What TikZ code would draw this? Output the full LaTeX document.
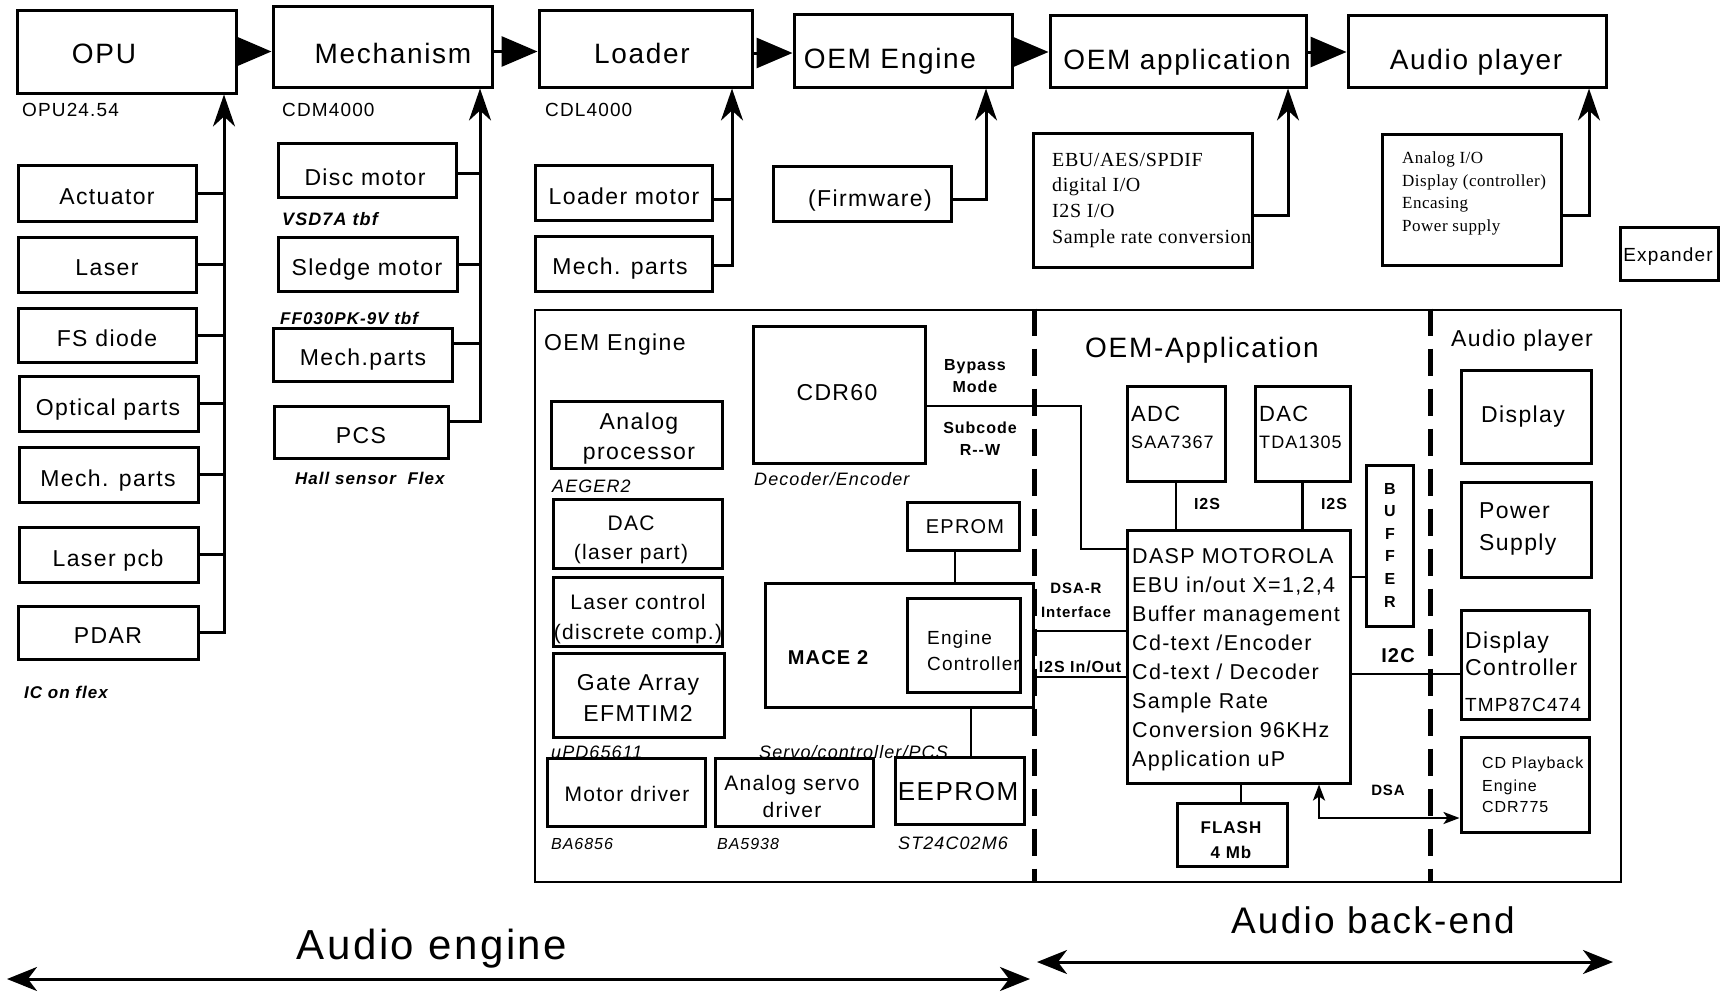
\documentclass[tikz,border=0pt]{standalone}
\usepackage{fontspec}
\setmainfont{Liberation Sans}[LetterSpace=6]
\newfontfamily\serifbox{Liberation Serif}[LetterSpace=3]
\usetikzlibrary{arrows.meta,fit}
\newcommand\fsz[2]{\fontsize{#1}{#2}\selectfont}
\begin{document}
\begin{tikzpicture}[x=1pt,y=-1pt,
  box/.style={draw,line width=3pt,inner sep=0pt},
  bigbox/.style={draw,line width=2.6pt,inner sep=0pt},
  capdown/.style={yshift={-0.36*#1*1pt}},
  tc/.style={inner sep=0pt,anchor=base},
  tw/.style={inner sep=0pt,anchor=base west},
  mc/.style={inner sep=0pt,anchor=center,align=center},
  toptext/.style={tc,font=\fsz{28}{34},capdown=28},
  bt/.style={tc,font=\fsz{23}{30},capdown=23},
  sub/.style={tw,font=\fsz{19}{22},capdown=19},
  itl/.style={tw,font=\bfseries\itshape\fsz{17}{20},capdown=17},
  itn/.style={tw,font=\itshape\fsz{18}{20},capdown=18},
  bsm/.style={tc,font=\bfseries\fsz{16}{20},capdown=16},
  conn/.style={line width=3pt},
  thin/.style={line width=2.6pt},
  flow/.style={line width=3pt,-{Triangle[length=36pt,width=30pt]}},
  feed/.style={line width=3pt,-{Stealth[length=32pt,width=22pt,inset=10pt]}},
  divider/.style={line width=5pt,dash pattern=on 27pt off 13pt},
  spanarrow/.style={line width=3pt,{Stealth[length=30pt,width=24pt,inset=9pt]}-{Stealth[length=30pt,width=24pt,inset=9pt]}},
  dsaarrow/.style={line width=2.5pt,{Stealth[length=16pt,width=12pt,inset=4pt]}-{Stealth[length=16pt,width=12pt,inset=4pt]}}
]
\useasboundingbox (0,0) rectangle (1726,993);

% ---------- top row ----------
\node[box,fit={(17,10)(236,93)}] (opu) {};
\node[toptext] (opu-t) at (104,53) {OPU};
\node[box,fit={(273,6)(492,87)}] (mech) {};
\node[toptext] (mech-t) at (393,53) {Mechanism};
\node[box,fit={(539,10)(752,87)}] (load) {};
\node[toptext] (load-t) at (642,53) {Loader};
\node[box,fit={(794,14)(1012,87)}] (oeme) {};
\node[toptext] (oeme-t) at (890,58) {OEM Engine};
\node[box,fit={(1050,15)(1306,87)}] (oema) {};
\node[toptext] (oema-t) at (1177,59) {OEM application};
\node[box,fit={(1348,15)(1606,87)}] (aplay) {};
\node[toptext] (aplay-t) at (1476,59) {Audio player};

\draw[flow] (opu.east) -- (opu.east -| mech.west);
\draw[flow] ([yshift=-5pt]mech.east) -- ([yshift=-5pt]mech.east -| load.west);
\draw[flow] ([yshift=-4.5pt]load.east) -- ([yshift=-4.5pt]load.east -| oeme.west);
\draw[flow] ([yshift=-1.5pt]oeme.east) -- ([yshift=-1.5pt]oeme.east -| oema.west);
\draw[flow] ([yshift=-1pt]oema.east) -- ([yshift=-1pt]oema.east -| aplay.west);

\node[sub] (opu-l) at (22,110) {OPU24.54};
\node[sub] (mech-l) at (282,110) {CDM4000};
\node[sub] (load-l) at (545,110) {CDL4000};

% ---------- OPU column ----------
\node[box,fit={(18,165)(196,221)}] (act) {};
\node[bt] (act-t) at (107,196) {Actuator};
\node[box,fit={(18,237)(196,292)}] (las) {};
\node[bt] (las-t) at (107,267) {Laser};
\node[box,fit={(18,308)(196,362)}] (fsd) {};
\node[bt] (fsd-t) at (107,338) {FS diode};
\node[box,fit={(19,376)(198,431)}] (opt) {};
\node[bt] (opt-t) at (108,407) {Optical parts};
\node[box,fit={(19,447)(198,502)}] (mp1) {};
\node[bt] (mp1-t) at (108,478) {Mech. parts};
\node[box,fit={(19,527)(198,582)}] (lpcb) {};
\node[bt] (lpcb-t) at (108,558) {Laser pcb};
\node[box,fit={(18,606)(198,659)}] (pdar) {};
\node[bt] (pdar-t) at (108,635) {PDAR};
\node[itl] (icflex) at (24,692) {IC on flex};

\draw[feed] (pdar.east) -| (opu.south -| 224,0);
\foreach \b in {act,las,fsd,opt,mp1,lpcb}
  \draw[conn] (\b.east) -- (\b.east -| 224,0);

% ---------- Mechanism column ----------
\node[box,fit={(278,143)(456,197)}] (disc) {};
\node[bt] (disc-t) at (365,177) {Disc motor};
\node[itl,font=\bfseries\itshape\fsz{18}{20},capdown=18] (vsd) at (282,213) {VSD7A tbf};
\node[box,fit={(278,237)(457,291)}] (sledge) {};
\node[bt] (sledge-t) at (367,267) {Sledge motor};
\node[itl] (ff) at (280,318) {FF030PK-9V tbf};
\node[box,fit={(273,328)(452,381)}] (mp2) {};
\node[bt] (mp2-t) at (363,357) {Mech.parts};
\node[box,fit={(274,406)(448,458)}] (pcs) {};
\node[bt] (pcs-t) at (361,435) {PCS};
\node[itl] (hall) at (295,478) {Hall sensor\ \ Flex};

\draw[feed] ([yshift=11pt]pcs.east) -| (mech.south -| 480,0);
\draw[conn] ([yshift=-3pt]disc.east) -- ([yshift=-3pt]disc.east -| 480,0);
\draw[conn] (sledge.east) -- (sledge.east -| 480,0);
\draw[conn] ([yshift=11pt]mp2.east) -- ([yshift=11pt]mp2.east -| 480,0);

% ---------- Loader column ----------
\node[box,fit={(535,165)(712,220)}] (lm) {};
\node[bt] (lm-t) at (624,196) {Loader motor};
\node[box,fit={(535,236)(712,291)}] (mp3) {};
\node[bt] (mp3-t) at (620,266) {Mech. parts};
\draw[feed] ([yshift=-1.5pt]mp3.east) -| (load.south -| 732,0);
\draw[conn] ([yshift=-6.5pt]lm.east) -- ([yshift=-6.5pt]lm.east -| 732,0);

% ---------- Firmware ----------
\node[box,fit={(773,166)(951,221)}] (fw) {};
\node[bt] (fw-t) at (870,198) {(Firmware)};
\draw[feed] ([yshift=-5.5pt]fw.east) -| (oeme.south -| 986,0);

% ---------- EBU box ----------
\node[box,fit={(1033,133)(1252,267)}] (ebu) {};
\node[tw,font=\serifbox\fsz{20}{24},capdown=20] (ebu-1) at (1052,159) {EBU/AES/SPDIF};
\node[tw,font=\serifbox\fsz{20}{24},capdown=20] (ebu-2) at (1052,184) {digital I/O};
\node[tw,font=\serifbox\fsz{20}{24},capdown=20] (ebu-3) at (1052,210) {I2S I/O};
\node[tw,font=\serifbox\fsz{20}{24},capdown=20] (ebu-4) at (1052,236) {Sample rate conversion};
\draw[feed] ([yshift=-15pt]ebu.east) -| (oema.south -| 1288,0);

% ---------- Analog I/O box ----------
\node[box,fit={(1382,134)(1561,265)}] (aio) {};
\node[tw,font=\serifbox\fsz{17}{20},capdown=17] (aio-1) at (1402,157) {Analog I/O};
\node[tw,font=\serifbox\fsz{17}{20},capdown=17] (aio-2) at (1402,180) {Display (controller)};
\node[tw,font=\serifbox\fsz{17}{20},capdown=17] (aio-3) at (1402,202) {Encasing};
\node[tw,font=\serifbox\fsz{17}{20},capdown=17] (aio-4) at (1402,225) {Power supply};
\draw[feed] ([yshift=-15.5pt]aio.east) -| (aplay.south -| 1589,0);

\node[box,fit={(1620,227)(1718,280)}] (exp) {};
\node[tc,font=\fsz{19}{22},capdown=19] (exp-t) at (1668,255) {Expander};

% ---------- big box ----------
\node[bigbox,fit={(535,310)(1621,882)}] (big) {};
\draw[divider] (big.north -| 1034,0) -- (big.south -| 1034,0);
\draw[divider] (big.north -| 1430,0) -- (big.south -| 1430,0);

\node[tw,font=\fsz{23}{28},capdown=23] (sec1) at (544,342) {OEM Engine};
\node[tc,font=\fsz{28}{34},capdown=28] (sec2) at (1202,347) {OEM-Application};
\node[tw,font=\fsz{23}{28},capdown=23] (sec3) at (1451,338) {Audio player};

% OEM engine section
\node[box,fit={(551,401)(722,468)}] (ap) {};
\node[mc,font=\fsz{23}{30}] (ap-t) at (639,439) {Analog\\processor};
\node[itn] (aeger) at (552,486) {AEGER2};
\node[box,fit={(553,499)(722,568)}] (dacl) {};
\node[mc,font=\fsz{21}{29}] (dacl-t) at (631,540) {DAC\\(laser part)};
\node[box,fit={(553,577)(722,646)}] (lc) {};
\node[mc,font=\fsz{21}{30}] (lc-t) at (638,619) {Laser control\\(discrete comp.)};
\node[box,fit={(553,653)(724,737)}] (ga) {};
\node[mc,font=\fsz{23}{31}] (ga-t) at (638,698) {Gate Array\\EFMTIM2};
\node[itn] (upd) at (551,752) {uPD65611};
\node[itn] (servo) at (759,752) {Servo/controller/PCS};

\node[box,fit={(547,758)(705,826)}] (md) {};
\node[tc,font=\fsz{21}{27},capdown=21] (md-t) at (627,794) {Motor driver};
\node[box,fit={(715,758)(873,826)}] (asd) {};
\node[mc,font=\fsz{21}{27}] (asd-t) at (792,796) {Analog servo\\driver};
\node[box,fit={(895,757)(1024,824)}] (eeprom) {};
\node[tc,font=\fsz{26}{30},capdown=26] (eeprom-t) at (958,791) {EEPROM};
\node[itn,font=\itshape\fsz{16}{20},capdown=16] (ba1) at (551,837) {BA6856};
\node[itn,font=\itshape\fsz{16}{20},capdown=16] (ba2) at (717,837) {BA5938};
\node[itn] (st) at (898,843) {ST24C02M6};

\node[box,fit={(753,326)(925,463)}] (cdr) {};
\node[tc,font=\fsz{23}{28},capdown=23] (cdr-t) at (837,392) {CDR60};
\node[itn] (decenc) at (754,479) {Decoder/Encoder};
\node[mc,font=\bfseries\fsz{16}{22}] (bypass) at (975,376) {Bypass\\Mode};
\node[mc,font=\bfseries\fsz{16}{22}] (subcode) at (980,439) {Subcode\\R-{}-W};

\node[box,fit={(907,502)(1019,550)}] (eprom) {};
\node[tc,font=\fsz{20}{24},capdown=20] (eprom-t) at (965,526) {EPROM};
\node[box,fit={(765,583)(1033,707)}] (mace) {};
\node[tc,font=\bfseries\fsz{20}{24},capdown=20] (mace-t) at (828,657) {MACE 2};
\node[box,fit={(907,598)(1020,692)}] (ec) {};
\node[tw,font=\fsz{19}{24},capdown=19] (ec-1) at (927,638) {Engine};
\node[tw,font=\fsz{19}{24},capdown=19] (ec-2) at (927,664) {Controller};

\coordinate (ep-b) at ([xshift=-8pt]eprom.south);
\draw[thin] (ep-b) -- (ep-b |- mace.north);
\coordinate (ee-t) at ([xshift=11.5pt]eeprom.north);
\draw[thin] (ee-t) -- (ee-t |- mace.south);

% OEM application section
\node[box,fit={(1127,386)(1225,481)}] (adc) {};
\node[tw,font=\fsz{22}{26},capdown=22] (adc-1) at (1131,414) {ADC};
\node[tw,font=\fsz{18}{22},capdown=18] (adc-2) at (1131,442) {SAA7367};
\node[box,fit={(1255,386)(1350,481)}] (dac) {};
\node[tw,font=\fsz{22}{26},capdown=22] (dac-1) at (1259,414) {DAC};
\node[tw,font=\fsz{18}{22},capdown=18] (dac-2) at (1259,442) {TDA1305};
\node[box,fit={(1127,530)(1350,783)}] (dasp) {};
\foreach \dl [count=\i] in {DASP MOTOROLA, {EBU in/out X=1,2,4}, Buffer management, Cd-text /Encoder, Cd-text / Decoder, Sample Rate, Conversion 96KHz, Application uP}
  \node[tw,font=\fsz{21.5}{26},capdown=21.5] (dasp-\i) at (1132,{556+28.9*(\i-1)}) {\dl};
\node[bsm] (i2s-a) at (1207,504) {I2S};
\node[bsm] (i2s-b) at (1334,504) {I2S};
\draw[thin] (adc.south) -- (adc.south |- dasp.north);
\draw[thin] (dac.south) -- (dac.south |- dasp.north);

\node[box,fit={(1366,465)(1413,626)}] (buf) {};
\node[mc,font=\bfseries\fsz{16}{22.6}] (buf-t) at (1390,545) {B\\U\\F\\F\\E\\R};
\draw[thin] (dasp.east |- 0,577) -- (buf.west |- 0,577);

\node[box,fit={(1177,803)(1287,866)}] (flash) {};
\node[mc,font=\bfseries\fsz{17}{25}] (flash-t) at (1231,840.5) {FLASH\\4 Mb};
\coordinate (fl-t) at ([xshift=9pt]flash.north);
\draw[line width=1.6pt] (fl-t) -- (fl-t |- dasp.south);

\coordinate (bp) at (1081,549);
\draw[thin] ([yshift=-11.5pt]cdr.east) -| (bp) -- (dasp.west |- bp);
\node[mc,font=\bfseries\fsz{15}{24}] (dsar) at (1076,600) {DSA-R\\Interface};
\draw[thin] (mace.east |- 0,631) -- (dasp.west |- 0,631);
\node[bsm] (i2sio) at (1080,667) {I2S In/Out};
\draw[thin] (mace.east |- 0,677) -- (dasp.west |- 0,677);

\node[tc,font=\bfseries\fsz{20}{24},capdown=20] (i2c) at (1398,655) {I2C};

% Audio player section
\node[box,fit={(1461,370)(1591,463)}] (disp) {};
\node[tc,font=\fsz{23}{28},capdown=23] (disp-t) at (1523,414) {Display};
\node[box,fit={(1461,482)(1591,577)}] (pow) {};
\node[tw,font=\fsz{23}{28},capdown=23] (pow-1) at (1479,510) {Power};
\node[tw,font=\fsz{23}{28},capdown=23] (pow-2) at (1479,542) {Supply};
\node[box,fit={(1461,610)(1589,719)}] (dc) {};
\node[tw,font=\fsz{23}{28},capdown=23] (dc-1) at (1465,640) {Display};
\node[tw,font=\fsz{23}{28},capdown=23] (dc-2) at (1465,667) {Controller};
\node[tw,font=\fsz{19}{22},capdown=19] (dc-3) at (1465,705) {TMP87C474};
\node[box,fit={(1461,737)(1589,832)}] (cdp) {};
\node[tw,font=\fsz{16}{20},capdown=16] (cdp-1) at (1482,763) {CD Playback};
\node[tw,font=\fsz{16}{20},capdown=16] (cdp-2) at (1482,786) {Engine};
\node[tw,font=\fsz{16}{20},capdown=16] (cdp-3) at (1482,807) {CDR775};

\draw[thin] (dasp.east |- 0,674) -- (dc.west |- 0,674);
\draw[dsaarrow] (dasp.south -| 1319,0) |- (cdp.west |- 0,818);
\node[tc,font=\bfseries\fsz{15}{20},capdown=15] (dsa) at (1388,790) {DSA};

% ---------- bottom ----------
\node[tc,font=\fsz{42}{48},capdown=42] (eng-lab) at (432,944) {Audio engine};
\coordinate (ae-l) at (7,979);
\coordinate (ae-r) at (1030,979);
\draw[spanarrow] (ae-l) -- (ae-r);
\node[tc,font=\fsz{37}{44},capdown=37] (back-lab) at (1373,920) {Audio back-end};
\coordinate (ab-l) at (1037,962);
\coordinate (ab-r) at (1613,962);
\draw[spanarrow] (ab-l) -- (ab-r);
\end{tikzpicture}
\end{document}
